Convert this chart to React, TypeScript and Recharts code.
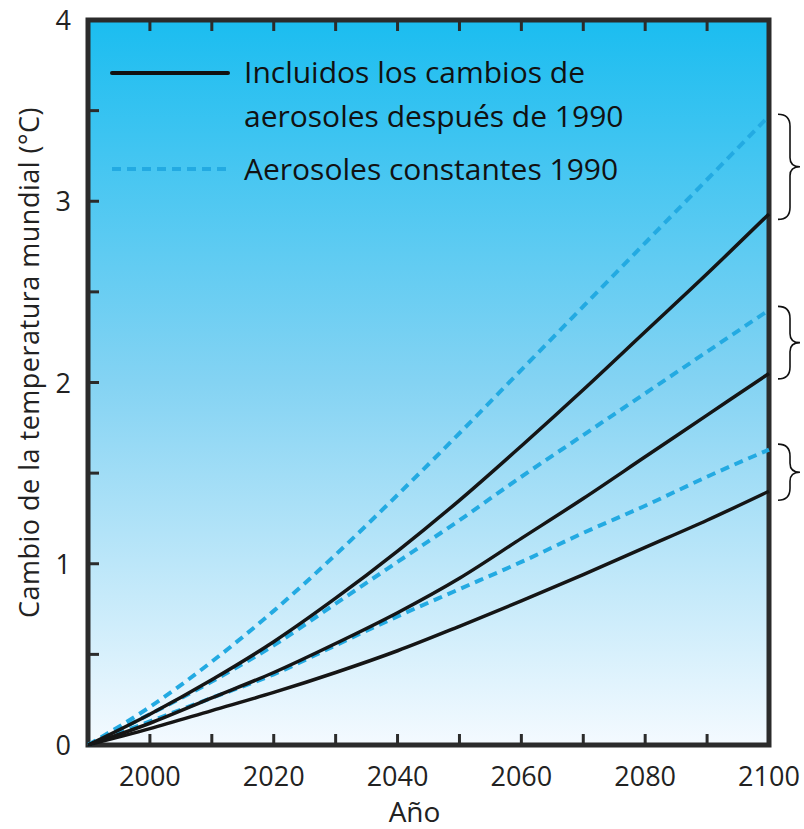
import React from 'react';
import { LineChart, Line, XAxis, YAxis, ReferenceArea, Legend } from 'recharts';

// years on the x axis, one point every 10 years
const years = [1990, 2000, 2010, 2020, 2030, 2040, 2050, 2060, 2070, 2080, 2090, 2100];

// solid black: aerosol changes included after 1990
const incluidosAlto = [0, 0.17, 0.36, 0.57, 0.81, 1.07, 1.35, 1.65, 1.96, 2.28, 2.6, 2.93];
const incluidosMedio = [0, 0.12, 0.26, 0.4, 0.56, 0.73, 0.92, 1.14, 1.36, 1.59, 1.82, 2.05];
const incluidosBajo = [0, 0.09, 0.19, 0.29, 0.4, 0.52, 0.655, 0.795, 0.94, 1.09, 1.24, 1.4];

// dashed blue: aerosols held at 1990 levels
const constantesAlto = [0, 0.21, 0.46, 0.74, 1.05, 1.38, 1.72, 2.07, 2.42, 2.77, 3.12, 3.47];
const constantesMedio = [0, 0.17, 0.35, 0.55, 0.78, 1.01, 1.24, 1.48, 1.71, 1.94, 2.17, 2.4];
const constantesBajo = [0, 0.13, 0.26, 0.39, 0.55, 0.71, 0.86, 1.01, 1.17, 1.32, 1.48, 1.63];

// brackets drawn right of the plot at 2100 (low, high)
const braceLow = [2.9, 2.02, 1.35];
const braceHigh = [3.48, 2.42, 1.66];

const xTicks = [2000, 2010, 2020, 2030, 2040, 2050, 2060, 2070, 2080, 2090, 2100];
const xLabels = [2000, 2020, 2040, 2060, 2080, 2100];
const yTicks = [0, 0.5, 1, 1.5, 2, 2.5, 3, 3.5, 4];
const yLabels = [0, 1, 2, 3, 4];

const data = years.map((year, i) => ({
  year,
  incluidosAlto: incluidosAlto[i],
  incluidosMedio: incluidosMedio[i],
  incluidosBajo: incluidosBajo[i],
  constantesAlto: constantesAlto[i],
  constantesMedio: constantesMedio[i],
  constantesBajo: constantesBajo[i],
}));

const FONT = '"Open Sans", sans-serif';
const DARK = '#2b2b2b';
const BLUE = '#23aae2';

const BottomTick = (props: any) => {
  const { x, y, payload } = props;
  const v = payload.value;
  return (
    <g>
      {v < 2100 && <line x1={x} y1={y} x2={x} y2={y - 11} stroke={DARK} strokeWidth={3} />}
      {xLabels.includes(v) && (
        <text x={x} y={y + 41} textAnchor="middle" fontSize={27} fill="#222" fontFamily={FONT}>
          {v}
        </text>
      )}
    </g>
  );
};

const TopTick = (props: any) => {
  const { x, y, payload } = props;
  if (payload.value >= 2100) return <g />;
  return <line x1={x} y1={y} x2={x} y2={y + 11} stroke={DARK} strokeWidth={3} />;
};

const LeftTick = (props: any) => {
  const { x, y, payload } = props;
  const v = payload.value;
  return (
    <g>
      {v > 0 && v < 4 && <line x1={x} y1={y} x2={x + 11} y2={y} stroke={DARK} strokeWidth={3} />}
      {yLabels.includes(v) && (
        <text x={x - 17} y={y + 10} textAnchor="end" fontSize={27} fill="#222" fontFamily={FONT}>
          {v}
        </text>
      )}
    </g>
  );
};

const RightTick = (props: any) => {
  const { x, y, payload } = props;
  const v = payload.value;
  if (v <= 0 || v >= 4) return <g />;
  return <line x1={x} y1={y} x2={x - 11} y2={y} stroke={DARK} strokeWidth={3} />;
};

const YTitle = (props: any) => {
  const vb = props.viewBox || {};
  const cx = 28;
  const cy = (vb.y ?? 19) + (vb.height ?? 726) / 2 - 20;
  return (
    <text
      x={cx}
      y={cy}
      transform={`rotate(-90, ${cx}, ${cy})`}
      textAnchor="middle"
      dominantBaseline="central"
      fontSize={27}
      letterSpacing={0.5}
      fill="#222"
      fontFamily={FONT}
    >
      Cambio de la temperatura mundial (°C)
    </text>
  );
};

const Brace = (props: any) => {
  const { x, y, height } = props;
  const bx = x + 9;
  const sx = bx + 12;
  const mid = y + height / 2;
  const d = `M ${bx} ${y} Q ${sx} ${y} ${sx} ${y + 12} L ${sx} ${mid - 9} Q ${sx} ${mid} ${sx + 10} ${mid}`
    + ` Q ${sx} ${mid} ${sx} ${mid + 9} L ${sx} ${y + height - 12} Q ${sx} ${y + height} ${bx} ${y + height}`;
  return <path d={d} fill="none" stroke="#111" strokeWidth={1.6} />;
};

const LegendBox = () => (
  <div style={{ fontFamily: FONT, fontSize: 30, color: '#111', lineHeight: '44px' }}>
    <div style={{ display: 'flex' }}>
      <svg width={134} height={44}>
        <line x1={2} y1={23} x2={118} y2={23} stroke="#111" strokeWidth={4} strokeLinecap="round" />
      </svg>
      <div>
        Incluidos los cambios de
        <br />
        aerosoles después de 1990
      </div>
    </div>
    <div style={{ display: 'flex', marginTop: 9 }}>
      <svg width={134} height={44}>
        <line x1={2} y1={22} x2={118} y2={22} stroke={BLUE} strokeWidth={4} strokeDasharray="9 6" />
      </svg>
      <div>Aerosoles constantes 1990</div>
    </div>
  </div>
);

export default function App() {
  return (
    <div style={{ width: 804, height: 829, background: '#fff' }}>
      <style>{'body{margin:0}'}</style>
      <LineChart
        width={804}
        height={829}
        data={data}
        margin={{ top: 19, right: 34, left: 28, bottom: 34 }}
      >
        <defs>
          <linearGradient id="cielo" x1="0" y1="0" x2="0" y2="1">
            <stop offset="0%" stopColor="#1bbdf0" />
            <stop offset="50%" stopColor="#84d3f3" />
            <stop offset="100%" stopColor="#f4faff" />
          </linearGradient>
        </defs>
        <XAxis
          xAxisId="bottom"
          dataKey="year"
          type="number"
          domain={[1990, 2100]}
          ticks={xTicks}
          interval={0}
          tick={<BottomTick />}
          tickSize={0}
          tickMargin={0}
          tickLine={false}
          axisLine={false}
          height={50}
          label={{ value: 'Año', position: 'insideBottom', offset: -27, dx: -14, fontSize: 28, fill: '#222', fontFamily: FONT }}
        />
        <XAxis
          xAxisId="top"
          orientation="top"
          dataKey="year"
          type="number"
          domain={[1990, 2100]}
          ticks={xTicks}
          interval={0}
          tick={<TopTick />}
          tickSize={0}
          tickMargin={0}
          tickLine={false}
          axisLine={false}
          height={1}
        />
        <YAxis
          yAxisId="left"
          type="number"
          domain={[0, 4]}
          ticks={yTicks}
          interval={0}
          tick={<LeftTick />}
          tickSize={0}
          tickMargin={0}
          tickLine={false}
          axisLine={false}
          width={60}
          label={<YTitle />}
        />
        <YAxis
          yAxisId="right"
          orientation="right"
          type="number"
          domain={[0, 4]}
          ticks={yTicks}
          interval={0}
          tick={<RightTick />}
          tickSize={0}
          tickMargin={0}
          tickLine={false}
          axisLine={false}
          width={1}
        />
        <ReferenceArea
          xAxisId="bottom"
          yAxisId="left"
          x1={1990}
          x2={2100}
          y1={0}
          y2={4}
          fill="url(#cielo)"
          fillOpacity={1}
          stroke="none"
        />
        <Legend
          content={<LegendBox />}
          layout="horizontal"
          verticalAlign="middle"
          align="center"
          wrapperStyle={{ position: 'absolute', left: 110, top: 50, width: 600 }}
        />
        <Line xAxisId="bottom" yAxisId="left" type="monotone" dataKey="constantesAlto" stroke={BLUE} strokeWidth={4} strokeDasharray="9 6" dot={false} isAnimationActive={false} />
        <Line xAxisId="bottom" yAxisId="left" type="monotone" dataKey="constantesMedio" stroke={BLUE} strokeWidth={4} strokeDasharray="9 6" dot={false} isAnimationActive={false} />
        <Line xAxisId="bottom" yAxisId="left" type="monotone" dataKey="constantesBajo" stroke={BLUE} strokeWidth={4} strokeDasharray="9 6" dot={false} isAnimationActive={false} />
        <Line xAxisId="bottom" yAxisId="left" type="monotone" dataKey="incluidosAlto" stroke="#151515" strokeWidth={3.5} dot={false} isAnimationActive={false} />
        <Line xAxisId="bottom" yAxisId="left" type="monotone" dataKey="incluidosMedio" stroke="#151515" strokeWidth={3.5} dot={false} isAnimationActive={false} />
        <Line xAxisId="bottom" yAxisId="left" type="monotone" dataKey="incluidosBajo" stroke="#151515" strokeWidth={3.5} dot={false} isAnimationActive={false} />
        {braceLow.map((lo, i) => (
          <ReferenceArea
            key={i}
            xAxisId="bottom"
            yAxisId="left"
            x1={2100}
            x2={2100}
            y1={lo}
            y2={braceHigh[i]}
            ifOverflow="visible"
            shape={<Brace />}
          />
        ))}
        <ReferenceArea
          xAxisId="bottom"
          yAxisId="left"
          x1={1990}
          x2={2100}
          y1={0}
          y2={4}
          fill="none"
          stroke={DARK}
          strokeWidth={5}
        />
      </LineChart>
    </div>
  );
}
